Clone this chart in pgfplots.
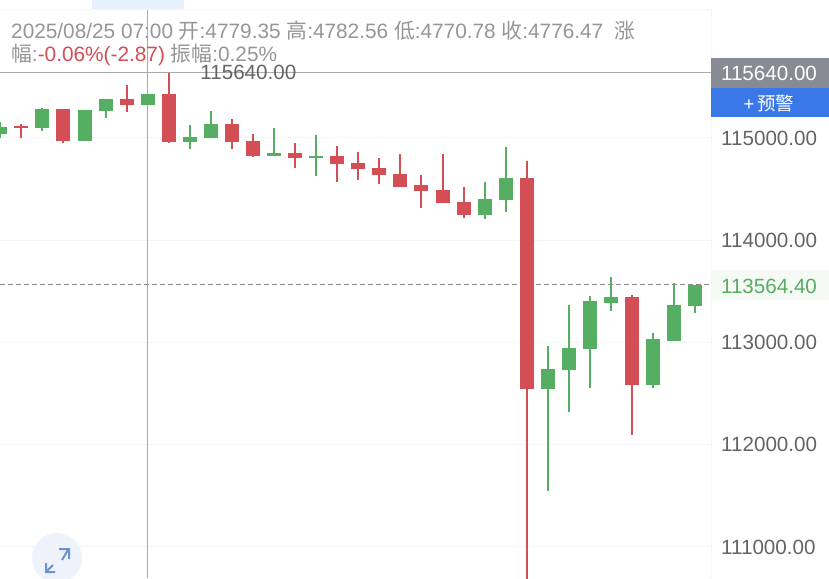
\documentclass[border=0pt]{standalone}
\usepackage{pgfplots}
\usepackage{pgfplotstable}
\usepackage{fontspec}
\pgfplotsset{compat=1.18}
\setmainfont{Liberation Sans}
\newfontfamily\cjk{Noto Sans CJK SC}
\newcommand{\cn}[1]{{\cjk #1}}
\definecolor{cred}{RGB}{212,78,86}
\definecolor{cgreen}{RGB}{85,174,97}
\definecolor{gridc}{RGB}{243,244,246}
\definecolor{crossc}{RGB}{170,170,172}
\definecolor{infoc}{RGB}{150,150,152}
\definecolor{labelc}{RGB}{100,100,102}
\definecolor{tagc}{RGB}{135,139,148}
\definecolor{alertc}{RGB}{59,120,231}
\definecolor{lastc}{RGB}{245,250,245}
\definecolor{tabc}{RGB}{232,240,252}
\definecolor{btnc}{RGB}{238,243,251}
\definecolor{iconc}{RGB}{110,145,210}

% candles: index, body top, body bottom, high, low
\pgfplotstableread{
x top bot high low
1 115117.3 115097.8 115136.9 115002.9
3 115280.6 114970.6 115280.6 114954.0
6 115378.4 115322.7 115518.3 115257.2
8 115430.3 114958.0 115632.7 114954.0
11 115139.8 114960.8 115182.9 114895.3
12 114970.6 114826.9 115036.2 114811.2
14 114856.2 114801.4 114948.1 114709.5
16 114823.9 114745.7 114924.7 114572.6
17 114755.5 114693.8 114860.1 114592.2
18 114703.6 114638.1 114801.4 114553.0
19 114647.9 114523.7 114840.6 114523.7
20 114537.4 114478.7 114638.1 114318.3
21 114491.4 114361.3 114840.6 114361.3
22 114374.0 114244.0 114523.7 114217.6
25 114608.8 112548.1 114775.0 110500.0
30 113448.0 112587.2 113467.5 112098.2
}\redcandles
\pgfplotstableread{
x top bot high low
0 115110.5 115042.0 115156.4 115002.9
2 115280.6 115097.8 115296.3 115068.4
4 115270.9 114970.6 115270.9 114970.6
5 115378.4 115261.0 115378.4 115198.5
7 115433.2 115322.7 115433.2 115322.7
9 115006.8 114958.0 115130.0 114895.3
10 115139.8 114997.0 115261.0 114997.0
13 114856.2 114826.9 115094.8 114826.9
15 114823.9 114801.4 115029.3 114631.3
23 114403.4 114244.0 114569.6 114210.7
24 114608.8 114393.6 114912.0 114279.2
26 112740.8 112545.2 112965.7 111550.6
27 112946.2 112731.0 113369.6 112320.2
28 113402.9 112936.4 113454.7 112557.9
29 113448.0 113389.2 113640.5 113308.0
31 113031.2 112587.2 113090.0 112557.9
32 113366.7 113017.6 113584.8 113017.6
33 113562.3 113357.0 113562.3 113285.5
}\greencandles

\pgfplotsset{
  wick/.style={draw=none, forget plot, error bars/.cd, y dir=both, y explicit,
    error mark=none, error bar style={line width=2pt, color=#1}},
  body/.style={draw=none, forget plot, error bars/.cd, y dir=plus, y explicit,
    error mark=none, error bar style={line width=14pt, color=#1}},
}

\begin{document}
\begin{tikzpicture}
\useasboundingbox (0,0) rectangle (829pt,578pt);
\fill[white] (0,0) rectangle (829pt,578pt);
\begin{axis}[
  scale only axis,
  width=711pt, height=568pt,
  xmin=-0.014, xmax=33.75,
  ymin=110696.8, ymax=116251.8,
  axis line style={draw=none},
  xtick=\empty,
  ytick={111000,112000,113000,114000,115000},
  ymajorgrids,
  grid style={gridc, line width=1pt},
  major tick length=0pt,
  yticklabel pos=right,
  scaled y ticks=false,
  yticklabel style={/pgf/number format/.cd, fixed, fixed zerofill, precision=2,
    1000 sep={}, assume math mode=true},
  tick label style={font=\fontsize{20.6}{22}\selectfont, text=labelc, inner sep=0pt, xshift=10pt},
]
% crosshair and last price
\addplot[crossc, line width=1.5pt, forget plot] coordinates {(7,110696.8) (7,116251.8)};
\addplot[crossc, line width=1.5pt, forget plot] coordinates {(-0.014,115640) (33.75,115640)};
\addplot[black!45, line width=1pt, dash pattern=on 5pt off 3pt, forget plot] coordinates {(-0.014,113564.4) (33.75,113564.4)};
% wicks then bodies
\addplot[wick=cred] table[x=x, y=bot, y error plus expr=\thisrow{high}-\thisrow{bot}, y error minus expr=\thisrow{bot}-\thisrow{low}] {\redcandles};
\addplot[wick=cgreen] table[x=x, y=bot, y error plus expr=\thisrow{high}-\thisrow{bot}, y error minus expr=\thisrow{bot}-\thisrow{low}] {\greencandles};
\addplot[body=cred] table[x=x, y=bot, y error plus expr=\thisrow{top}-\thisrow{bot}] {\redcandles};
\addplot[body=cgreen] table[x=x, y=bot, y error plus expr=\thisrow{top}-\thisrow{bot}] {\greencandles};
\node[font=\fontsize{20.6}{22}\selectfont, text=labelc, inner sep=0pt] at (axis cs:11.78,115640) {115640.00};
\end{axis}
\begin{scope}[x=1pt, y=-1pt, shift={(0,578pt)}]
  % panel frame, tab
  \draw[gridc, line width=1pt] (0,10) -- (711,10) -- (711,578);
  \fill[tabc] (92,0) rectangle (184,9);
  % price tags
  \fill[tagc] (711,58) rectangle (829,88);
  \fill[alertc] (711,88) rectangle (829,117);
  \fill[lastc] (712,270) rectangle (829,300);
  \node[font=\fontsize{20.6}{22}\selectfont, text=white, inner sep=0pt] at (769,73) {115640.00};
  \node[font=\fontsize{18.5}{20}\selectfont, text=white, inner sep=0pt] at (769,103) {+\,\cn{预警}};
  \node[font=\fontsize{20.6}{22}\selectfont, text=cgreen, inner sep=0pt] at (769,286) {113564.40};
  % header text
  \node[anchor=base west, font=\fontsize{20.8}{22}\selectfont, text=infoc, inner sep=0pt] at (11,39)
    {2025/08/25 07:00 \cn{开}:4779.35 \cn{高}:4782.56 \cn{低}:4770.78 \cn{收}:4776.47 \ \cn{涨}};
  \node[anchor=base west, font=\fontsize{20.8}{22}\selectfont, text=infoc, inner sep=0pt] at (11,62)
    {\cn{幅}:\textcolor{cred}{-0.06\%(-2.87)} \cn{振幅}:0.25\%};
  % expand button
  \fill[btnc] (57,558) circle (25);
  \draw[iconc, line width=2pt] (62,560) -- (68,550) (59,549) -- (69,549) -- (69,559)
    (53,565) -- (47,571) (46,563) -- (46,572) -- (55,572);
\end{scope}
\end{tikzpicture}
\end{document}
